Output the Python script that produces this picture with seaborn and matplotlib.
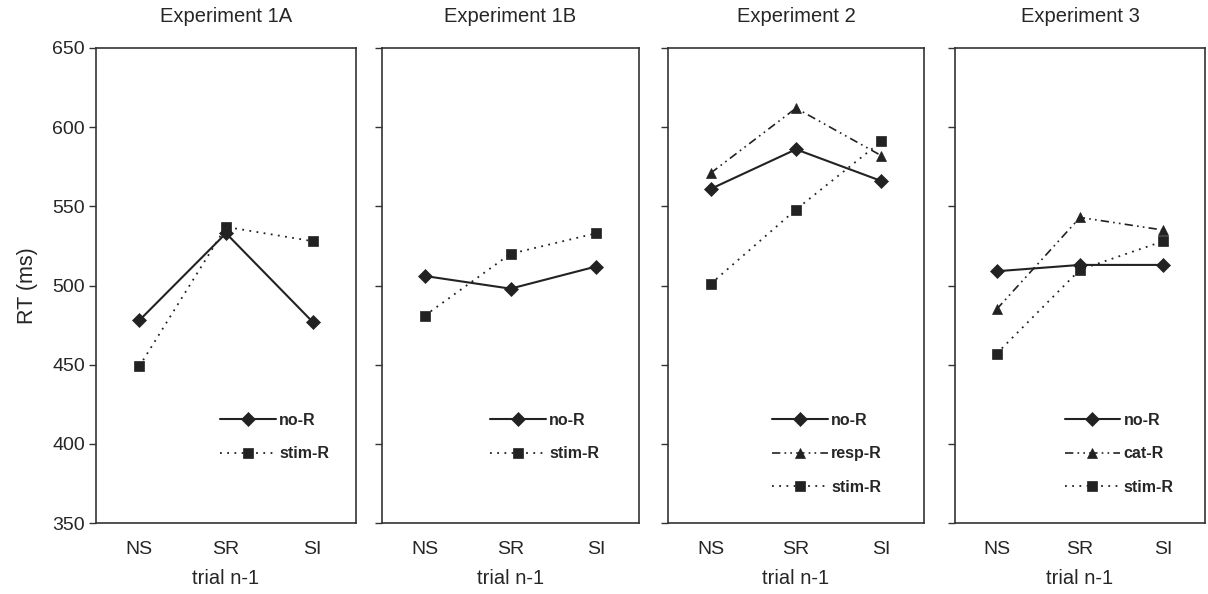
import pandas as pd
import matplotlib.pyplot as plt
import seaborn as sns

trials = ["NS", "SR", "SI"]
titles = ["Experiment 1A", "Experiment 1B", "Experiment 2", "Experiment 3"]

# RT (ms) per condition
exp1a_nor = [478, 533, 477]
exp1a_stim = [449, 537, 528]
exp1b_nor = [506, 498, 512]
exp1b_stim = [481, 520, 533]
exp2_nor = [561, 586, 566]
exp2_resp = [571, 612, 582]
exp2_stim = [501, 548, 591]
exp3_nor = [509, 513, 513]
exp3_cat = [485, 543, 535]
exp3_stim = [457, 510, 528]

panels = [
    [("no-R", exp1a_nor), ("stim-R", exp1a_stim)],
    [("no-R", exp1b_nor), ("stim-R", exp1b_stim)],
    [("no-R", exp2_nor), ("resp-R", exp2_resp), ("stim-R", exp2_stim)],
    [("no-R", exp3_nor), ("cat-R", exp3_cat), ("stim-R", exp3_stim)],
]

markers = {"no-R": "D", "stim-R": "s", "resp-R": "^", "cat-R": "^"}
msize = {"D": 6.8, "s": 7.5, "^": 7.2}
dashes = {"no-R": "", "stim-R": (1, 3), "resp-R": (5, 2.5, 1, 2.5, 1, 2.5),
          "cat-R": (5, 2.5, 1, 2.5, 1, 2.5)}
widths = {"no-R": 1.5, "stim-R": 1.3, "resp-R": 1.2, "cat-R": 1.2}

sns.set_style("white")
plt.rcParams['font.family'] = ['Liberation Sans', 'DejaVu Sans']

W, H = 1208, 594
fig = plt.figure(figsize=(W / 100, H / 100), dpi=100)

# axes boxes in pixels (left, right)
boxes = [(96, 356), (382, 639), (668, 924), (955, 1205)]
top, bottom = 48, 523
leg_x = [0.477, 0.42, 0.406, 0.438]

ink = "#222222"
for i, (l, r) in enumerate(boxes):
    ax = fig.add_axes([l / W, 1 - bottom / H, (r - l) / W, (bottom - top) / H])
    rows = []
    for name, vals in panels[i]:
        for t, v in zip(trials, vals):
            rows.append({"trial": t, "rt": v, "cond": name})
    df = pd.DataFrame(rows)
    conds = [n for n, _ in panels[i]]
    for name in conds:
        sub = df[df["cond"] == name]
        sns.lineplot(data=sub, x="trial", y="rt", ax=ax, color=ink,
                     marker=markers[name], markersize=msize[markers[name]],
                     markeredgecolor=ink, markeredgewidth=0.5,
                     linewidth=widths[name], label=name, sort=False)
        ln = ax.lines[-1]
        if dashes[name]:
            ln.set_dashes(dashes[name])
    ax.set_xlim(-0.5, 2.5)
    ax.set_ylim(350, 650)
    ax.set_yticks(range(350, 651, 50))
    ax.set_xlabel("trial n-1", fontsize=14.5, labelpad=8)
    ax.set_ylabel("")
    ax.set_title(titles[i], fontsize=14.5, pad=19)
    for s in ax.spines.values():
        s.set_visible(True)
        s.set_color("#333333")
        s.set_linewidth(1.2)
    ax.tick_params(axis="y", direction="out", length=5, width=1, color="#333333",
                   left=True, labelsize=14, labelleft=(i == 0), pad=3)
    ax.tick_params(axis="x", length=0, labelsize=14, pad=13)
    if i == 0:
        ax.set_ylabel("RT (ms)", fontsize=15.5, labelpad=10)
    leg = ax.legend(loc="upper left", bbox_to_anchor=(leg_x[i], 0.232), frameon=False,
                    handlelength=3.5, handletextpad=0.2, labelspacing=1.15,
                    borderpad=0, borderaxespad=0, prop={"weight": "bold", "size": 11.5})

fig.savefig("out.png", dpi=100)
